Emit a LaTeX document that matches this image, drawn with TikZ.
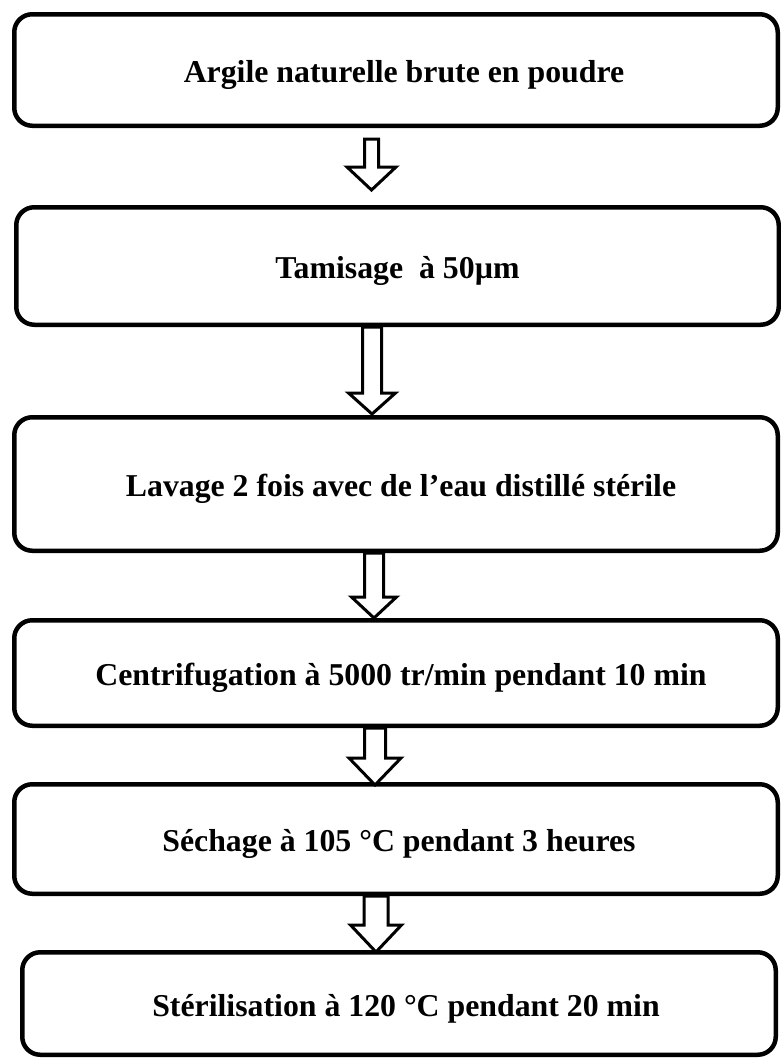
\documentclass[tikz,border=0pt]{standalone}
\usepackage{fontspec}
\setmainfont{Liberation Serif}
\usetikzlibrary{calc}

% Hollow block arrow between two boxes:
% #1 from box, #2 to box, #3 x of the arrow axis, #4 gap below the upper box,
% #5 head length, #6 half shaft width, #7 half head width, #8 gap above the lower box
\newcommand\blockarrow[8]{%
  \coordinate (ax) at (#3,0);
  \coordinate (at) at ($(#1.south -| ax)+(0,#4)$);
  \coordinate (ap) at ($(#2.north -| ax)+(0,-#8)$);
  \coordinate (ah) at ($(ap)+(0,-#5)$);
  \draw[hollow] ($(at)+(-#6,0)$) -- ($(at)+(#6,0)$) -- ($(ah)+(#6,0)$)
    -- ($(ah)+(#7,0)$) -- (ap) -- ($(ah)+(-#7,0)$) -- ($(ah)+(-#6,0)$) -- cycle;
}

% Box text, set a little right (#1, in pt) and slightly low in its box
\newcommand\steptext[2]{\hspace*{#1pt}\hspace*{#1pt}\raisebox{-5pt}[\height][\depth]{#2}}

\begin{document}
\begin{tikzpicture}[x=1pt,y=-1pt,
  stepbox/.style={draw, line width=4.5pt, rounded corners=18pt, inner sep=0pt,
    font=\fontsize{31.8}{38}\selectfont\bfseries, align=center},
  hollow/.style={draw, line width=3pt, fill=white, line join=miter, miter limit=10}]
\useasboundingbox (0,0) rectangle (781,1061);

\node[stepbox, minimum width=763.5pt, minimum height=111.5pt] (b1) at (396,70)
  {\steptext{8}{Argile naturelle brute en poudre}};
\node[stepbox, minimum width=762.5pt, minimum height=117.5pt] (b2) at (397.5,266)
  {\steptext{0}{Tamisage\ \ à 50µm}};
\node[stepbox, minimum width=763.5pt, minimum height=133.5pt] (b3) at (396,484)
  {\steptext{5}{Lavage 2 fois avec de l’eau distillé stérile}};
\node[stepbox, minimum width=763.5pt, minimum height=105.5pt] (b4) at (396,673)
  {\steptext{5}{Centrifugation à 5000 tr/min pendant 10 min}};
\node[stepbox, minimum width=763.5pt, minimum height=109.5pt] (b5) at (396,839)
  {\steptext{3}{Séchage à 105 °C pendant 3 heures}};
\node[stepbox, minimum width=753.5pt, minimum height=102.5pt] (b6) at (399,1003.5)
  {\steptext{7}{Stérilisation à 120 °C pendant 20 min}};

\blockarrow{b1}{b2}{371.5}{11}{23}{7}{24.5}{15}
\blockarrow{b2}{b3}{372}{0}{21}{9.5}{23.5}{1}
\blockarrow{b3}{b4}{374}{0}{21}{9.5}{22.5}{0}
\blockarrow{b4}{b5}{375}{0}{27}{10.5}{26}{-3}
\blockarrow{b5}{b6}{376}{0}{27}{12}{25.5}{-2}
\end{tikzpicture}
\end{document}
